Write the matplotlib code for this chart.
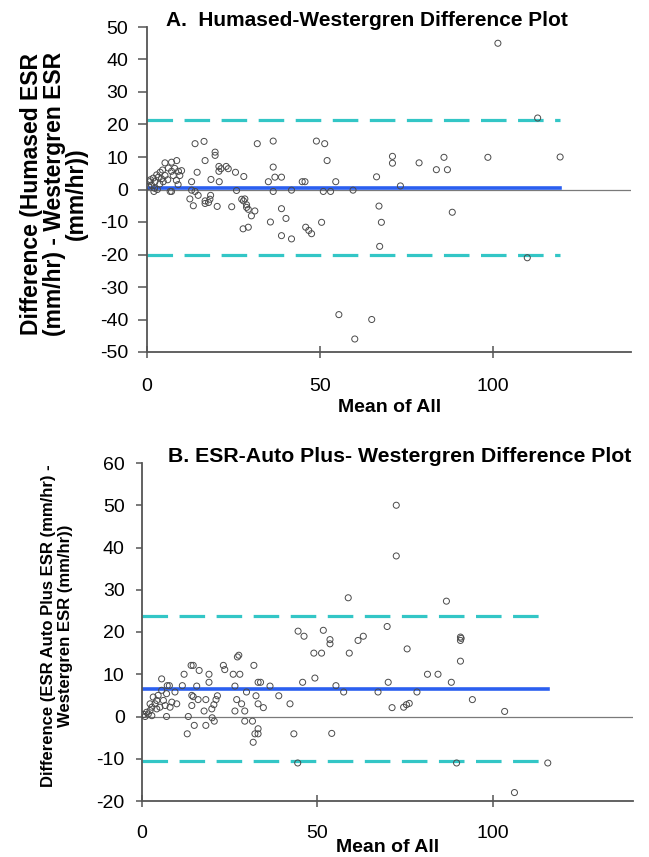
import matplotlib.pyplot as plt

plt.rcParams['font.family'] = ['Liberation Sans', 'DejaVu Sans']
plt.rcParams['axes.unicode_minus'] = False

# ---- A. Humased - Westergren ----
mean_a = [0.5, 0.8, 1.0, 1.3, 1.8, 2.0, 2.2, 2.3, 2.8, 3.0, 3.3, 3.7, 3.8, 4.2, 4.5, 4.7,
          5.2, 5.2, 6.0, 6.2, 6.7, 7.1, 7.1, 7.1, 7.6, 8.0, 8.5, 8.6, 9.0, 9.1, 9.5, 10.0,
          12.4, 12.9, 12.9, 13.4, 13.9, 13.9, 14.5, 14.8, 16.5, 16.8, 16.8, 16.8, 17.8,
          18.2, 18.4, 18.5, 19.7, 19.7, 20.3, 20.8, 20.8, 20.9, 21.4, 22.9, 23.5, 24.5,
          25.6, 25.9, 27.4, 27.8, 27.9, 28.0, 28.3, 28.8, 28.8, 29.3, 29.3, 30.2, 31.2,
          31.9, 35.1, 35.7, 36.5, 36.5, 36.5, 37.0, 38.9, 38.9, 38.9, 40.2, 41.8, 41.8,
          44.9, 45.7, 45.9, 46.8, 47.6, 49.0, 50.5, 51.0, 51.4, 52.1, 53.1, 54.6, 55.5,
          59.6, 60.1, 65.0, 66.4, 67.1, 67.3, 67.8, 71.0, 71.0, 73.3, 78.7, 83.7, 85.9,
          86.9, 88.3, 98.6, 101.5, 110.0, 113.0, 119.5]
diff_a = [1.0, 2.4, 3.0, 1.4, 3.5, -0.6, 0.4, 2.4, 4.5, 0.0, 3.8, 1.7, 5.3, 3.3, 6.0, 2.4,
          4.3, 8.2, 3.0, 6.6, -0.6, -0.6, 5.6, 8.4, 4.3, 6.5, 2.8, 8.9, 1.5, 5.6, 4.3, 5.8,
          -2.9, 2.4, -0.2, -5.0, 14.1, -0.6, 5.3, -1.8, 14.8, 8.9, -4.3, -3.5, -4.0,
          -3.0, -1.8, 3.1, 11.5, 10.5, -5.2, 7.1, 5.6, 2.4, 6.4, 7.1, 6.4, -5.3,
          5.3, -0.3, -3.0, -12.1, -3.5, 4.0, -2.9, -4.7, -5.5, -6.1, -11.6, -8.1, -6.6,
          14.1, 2.4, -10.0, 14.9, 6.9, -0.6, 3.8, 3.8, -5.9, -14.2, -8.9, -0.2, -15.2,
          2.4, 2.4, -11.6, -12.6, -13.6, 14.9, -10.1, -0.6, 14.1, 8.9, -0.6, 2.4, -38.5,
          -0.2, -46.0, -40.0, 3.9, -5.1, -17.5, -10.1, 10.2, 8.1, 1.1, 8.2, 6.1, 9.9,
          6.1, -7.0, 9.9, 45.0, -21.0, 22.0, 10.0]
bias_a = 0.6
upper_a = 21.3
lower_a = -20.0

# ---- B. ESR-Auto Plus - Westergren ----
mean_b = [0.5, 0.9, 1.3, 1.8, 2.3, 2.3, 2.8, 2.8, 3.2, 3.7, 4.2, 4.2, 4.6, 5.1, 5.6, 5.6,
          6.1, 6.6, 7.0, 7.0, 7.2, 7.8, 8.0, 8.5, 9.4, 9.9, 11.5, 12.0, 12.9, 13.2, 14.0,
          14.2, 14.2, 14.6, 14.6, 14.9, 15.6, 16.0, 16.3, 17.7, 18.2, 18.2, 19.1, 19.1,
          19.9, 20.0, 20.5, 20.6, 21.1, 21.5, 23.2, 23.6, 26.0, 26.5, 26.5, 27.0, 27.2,
          27.6, 27.9, 28.4, 29.3, 29.3, 29.8, 31.5, 31.7, 31.9, 32.2, 32.5, 33.1, 33.1,
          33.1, 33.1, 33.8, 34.6, 36.5, 39.0, 42.2, 43.3, 44.4, 44.5, 45.8, 46.2, 49.0,
          49.3, 51.2, 51.7, 53.6, 53.6, 54.1, 55.3, 57.5, 58.8, 59.1, 61.6, 63.1, 67.3,
          69.9, 70.2, 71.3, 72.5, 72.5, 74.6, 75.4, 75.6, 76.2, 78.4, 81.4, 84.4, 86.8,
          88.2, 89.7, 90.8, 90.8, 91.0, 90.8, 94.2, 103.4, 106.2, 115.7]
diff_b = [0.5, 0.0, 1.0, 0.6, 1.4, 3.0, 0.2, 2.2, 4.6, 3.0, 3.8, 1.8, 5.0, 2.2, 6.2, 8.9,
          3.8, 2.6, 5.4, 0.0, 7.3, 7.3, 2.2, 3.4, 5.8, 3.0, 7.3, 10.0, -4.1, 0.0, 12.1,
          5.0, 2.6, 12.1, 4.7, -2.1, 7.2, 4.0, 10.9, 1.3, 4.0, -2.1, 10.0, 8.1,
          1.8, -0.3, 2.8, -1.1, 4.0, 4.9, 12.1, 11.1, 10.0, 7.2, 1.3, 4.0, 14.1,
          14.5, 10.0, 3.0, 1.3, -1.1, 5.8, -1.1, -6.1, 12.1, -4.1, 4.9, 8.1, 3.0,
          -2.9, -4.1, 8.1, 2.1, 7.2, 4.9, 3.0, -4.1, -11.0, 20.2, 8.1, 19.0, 15.0,
          9.1, 15.0, 20.4, 18.2, 17.2, -4.0, 7.3, 5.8, 28.1, 15.0, 18.0, 19.0, 5.8,
          21.3, 8.1, 2.1, 50.0, 38.0, 2.2, 2.8, 16.0, 3.1, 5.8, 10.0, 10.0, 27.3,
          8.1, -11.0, 18.8, 18.0, 18.5, 13.1, 4.0, 1.2, -18.0, -11.0]
bias_b = 6.6
upper_b = 23.8
lower_b = -10.6

W, H = 649, 857
fig = plt.figure(figsize=(W / 100, H / 100), dpi=100)
ax1 = fig.add_axes([147 / W, 1 - 352 / H, (631 - 147) / W, (352 - 27) / H])
ax2 = fig.add_axes([142 / W, 1 - 801 / H, (633 - 142) / W, (801 - 463) / H])


def draw(ax, mx, dy, bias, upper, lower, ylim, yticks, xpad, ypad, ylen):
    xend = max(mx)
    ax.axhline(0, color='#7a7a7a', lw=0.9, zorder=1)
    for lvl in (upper, lower):
        ax.plot([0, xend], [lvl, lvl], color='#33c6c6', lw=2.3, dashes=(8, 3.6), zorder=2)
    ax.plot([0, xend], [bias, bias], color='#2b5ff0', lw=2.6, zorder=2)
    ax.scatter(mx, dy, s=19, facecolors='none', edgecolors='#4a4a4a',
               linewidths=0.7, zorder=3)
    ax.set_xlim(0, 140)
    ax.set_ylim(*ylim)
    ax.set_xticks([0, 50, 100])
    ax.set_yticks(yticks)
    for s in ('top', 'right'):
        ax.spines[s].set_visible(False)
    for s in ('left', 'bottom'):
        ax.spines[s].set_color('#555555')
        ax.spines[s].set_linewidth(1.3)
    ax.xaxis.set_tick_params(direction='inout', length=8, width=1.1, color='#555555',
                             labelsize=14, pad=xpad)
    ax.yaxis.set_tick_params(direction='out', length=ylen, width=1.1, color='#555555',
                             labelsize=14, pad=ypad)


draw(ax1, mean_a, diff_a, bias_a, upper_a, lower_a, (-50, 50), range(-50, 51, 10),
     15, 7, 6.5)
draw(ax2, mean_b, diff_b, bias_b, upper_b, lower_b, (-20, 60), range(-20, 61, 10),
     13, 8, 4.5)

fig.text(367 / W, 1 - 20 / H, 'A.  Humased-Westergren Difference Plot',
         ha='center', va='center', fontsize=15, fontweight='bold')
fig.text(400 / W, 1 - 456 / H, 'B. ESR-Auto Plus- Westergren Difference Plot',
         ha='center', va='center', fontsize=15.3, fontweight='bold')

fig.text(390 / W, 1 - 407 / H, 'Mean of All', ha='center', va='center',
         fontsize=14, fontweight='bold')
fig.text(388 / W, 1 - 847 / H, 'Mean of All', ha='center', va='center',
         fontsize=14, fontweight='bold')

fig.text(54 / W, 1 - 194 / H, 'Difference (Humased ESR\n(mm/hr) - Westergren ESR\n(mm/hr))',
         rotation=90, ha='center', va='center', multialignment='center',
         fontsize=16.5, fontweight='bold', linespacing=0.95)
fig.text(57 / W, 1 - 626 / H,
         'Difference (ESR Auto Plus ESR (mm/hr) -\nWestergren ESR (mm/hr))',
         rotation=90, ha='center', va='center', multialignment='center',
         fontsize=12, fontweight='bold', linespacing=1.1)

fig.savefig('out.png', dpi=100)
